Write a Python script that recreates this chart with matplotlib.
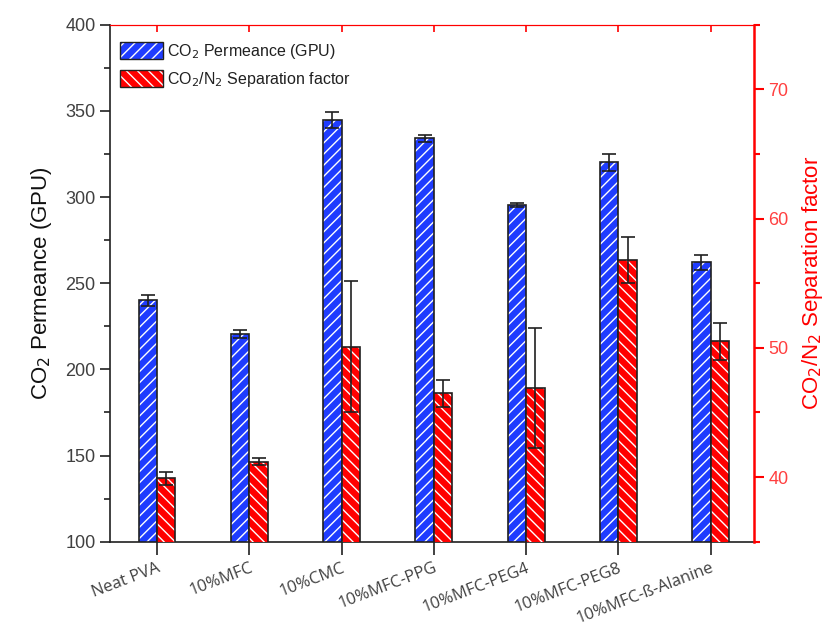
import matplotlib
matplotlib.use("Agg")
import matplotlib.pyplot as plt
import numpy as np
from matplotlib.patches import Patch
from matplotlib.legend_handler import HandlerTuple

categories = ["Neat PVA", "10%MFC", "10%CMC", "10%MFC-PPG", "10%MFC-PEG4", "10%MFC-PEG8", "10%MFC-ß-Alanine"]
permeance = [240, 220.5, 344.7, 334, 295.4, 320.2, 262.1]
permeance_err = [3, 2.2, 4.6, 2.2, 1.2, 5.0, 4.3]
selectivity = [39.9, 41.2, 50.1, 46.5, 46.9, 56.8, 50.5]
selectivity_err = [0.5, 0.3, 5.1, 1.05, 4.65, 1.75, 1.45]

plt.rcParams['font.family'] = ['Liberation Sans', 'DejaVu Sans']
plt.rcParams['hatch.linewidth'] = 1.0

BLUE = '#1f3cff'
RED = '#ff0000'
TICKGRAY = '#404040'

fig = plt.figure(figsize=(8.37, 6.33), dpi=100)
ax = fig.add_axes([0.1314, 0.1442, 0.7694, 0.8168])
ax2 = ax.twinx()

x = np.arange(len(categories))
w = 0.2

# blue bars (left axis)
ax.bar(x - w / 2, permeance, w, color=BLUE, edgecolor='white', hatch='///', linewidth=0, zorder=2)
ax.bar(x - w / 2, permeance, w, fill=False, edgecolor='#202020', linewidth=1.2, zorder=3)
ax.errorbar(x - w / 2, permeance, yerr=permeance_err, fmt='none', ecolor='#202020',
            elinewidth=1.2, capsize=5, capthick=1.2, zorder=4)

# red bars (right axis)
ax2.bar(x + w / 2, selectivity, w, color=RED, edgecolor='white', hatch='\\\\\\', linewidth=0, zorder=2)
ax2.bar(x + w / 2, selectivity, w, fill=False, edgecolor='#202020', linewidth=1.2, zorder=3)
ax2.errorbar(x + w / 2, selectivity, yerr=selectivity_err, fmt='none', ecolor='#202020',
             elinewidth=1.2, capsize=5, capthick=1.2, zorder=4)

ax.set_xlim(-0.51, 6.47)
ax.set_ylim(100, 400)
ax2.set_ylim(35, 75)

ax.set_yticks(np.arange(100, 401, 50))
ax.set_yticks(np.arange(125, 400, 50), minor=True)
ax2.set_yticks([40, 50, 60, 70])
ax2.set_yticks([35, 45, 55, 65, 75], minor=True)

ax.set_xticks(x)
ax.set_xticklabels(categories, rotation=21, ha='right', rotation_mode='anchor',
                   fontsize=12, color=TICKGRAY, family=['Open Sans', 'DejaVu Sans'])
ax.tick_params(axis='x', which='major', direction='out', length=9, width=1.2, color='#202020', pad=4)
ax.tick_params(axis='y', which='major', direction='out', length=7, width=1.2, color='#202020',
               labelsize=13, labelcolor=TICKGRAY)
ax.tick_params(axis='y', which='minor', direction='out', length=4, width=1.2, color='#202020')
ax2.tick_params(axis='y', which='major', direction='out', length=7, width=1.5, color=RED,
                labelsize=13, labelcolor='#ff4040')
ax2.tick_params(axis='y', which='minor', direction='out', length=4, width=1.5, color=RED)

# top ticks in red at categories
ax_top = ax.secondary_xaxis('top')
ax_top.set_xticks(x)
ax_top.set_xticklabels([])
ax_top.tick_params(axis='x', direction='in', length=5, width=1.2, color=RED)
ax_top.spines['top'].set_visible(False)

for s in ['left', 'bottom']:
    ax.spines[s].set_color('#202020')
    ax.spines[s].set_linewidth(1.2)
ax.spines['top'].set_color(RED)
ax.spines['right'].set_visible(False)
ax2.spines['right'].set_color(RED)
ax2.spines['right'].set_linewidth(1.8)
ax2.spines['top'].set_color(RED)
ax2.spines['left'].set_visible(False)
ax2.spines['bottom'].set_visible(False)

ax.set_ylabel('CO$_2$ Permeance (GPU)', fontsize=16, color='#111111', labelpad=8)
ax2.set_ylabel('CO$_2$/N$_2$ Separation factor', fontsize=16, color=RED, labelpad=8)

# legend
h_blue = (Patch(facecolor=BLUE, edgecolor='white', hatch='///', linewidth=0),
          Patch(facecolor='none', edgecolor='#202020', linewidth=1.0))
h_red = (Patch(facecolor=RED, edgecolor='white', hatch='\\\\\\', linewidth=0),
         Patch(facecolor='none', edgecolor='#202020', linewidth=1.0))
leg = ax2.legend([h_blue, h_red], ['CO$_2$ Permeance (GPU)', 'CO$_2$/N$_2$ Separation factor'],
                 handler_map={tuple: HandlerTuple(ndivide=1, pad=0)},
                 loc='upper left', bbox_to_anchor=(0.0, 0.985), frameon=False, fontsize=11.5,
                 handlelength=2.7, handleheight=1.2, handletextpad=0.3, labelspacing=0.55,
                 borderaxespad=0.2)
for t in leg.get_texts():
    t.set_color('#202020')

fig.savefig('out.png', dpi=100)
